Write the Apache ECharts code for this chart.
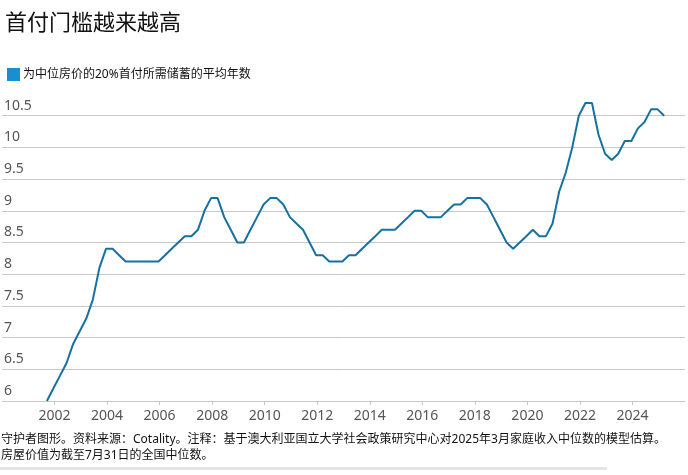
<!DOCTYPE html>
<html>
<head>
<meta charset="utf-8">
<script src="https://cdn.jsdelivr.net/npm/echarts@6/dist/echarts.min.js"></script>
<style>
html,body{margin:0;padding:0;background:#fff;}
#chart{width:688px;height:475px;}
</style>
</head>
<body>
<div id="chart"></div>
<script>
// ---- data ----
var titleText = '首付门槛越来越高';
var seriesName = '为中位房价的20%首付所需储蓄的平均年数';
var footnote = ['守护者图形。资料来源：Cotality。注释：基于澳大利亚国立大学社会政策研究中心对2025年3月家庭收入中位数的模型估算。',
                '房屋价值为截至7月31日的全国中位数。'];
// quarterly observations, first one September 2001
var startYear = 2001, startMonth = 9, monthsPerStep = 3;
var yearsSaving = [
  6.0, 6.2, 6.4, 6.6, 6.9, 7.1, 7.3, 7.6, 8.1, 8.4,
  8.4, 8.3, 8.2, 8.2, 8.2, 8.2, 8.2, 8.2,
  8.3, 8.4, 8.5, 8.6, 8.6, 8.7, 9.0, 9.2,
  9.2, 8.9, 8.7, 8.5, 8.5, 8.7, 8.9, 9.1, 9.2, 9.2,
  9.1, 8.9, 8.8, 8.7, 8.5, 8.3, 8.3, 8.2, 8.2, 8.2,
  8.3, 8.3, 8.4, 8.5, 8.6, 8.7, 8.7, 8.7, 8.8, 8.9,
  9.0, 9.0, 8.9, 8.9, 8.9, 9.0, 9.1, 9.1, 9.2, 9.2,
  9.2, 9.1, 8.9, 8.7, 8.5, 8.4, 8.5, 8.6, 8.7, 8.6,
  8.6, 8.8, 9.3, 9.6, 10.0, 10.5, 10.7, 10.7, 10.2, 9.9,
  9.8, 9.9, 10.1, 10.1, 10.3, 10.4, 10.6, 10.6, 10.5
];
var xTickYears = [2002, 2004, 2006, 2008, 2010, 2012, 2014, 2016, 2018, 2020, 2022, 2024];
var yTickValues = [6, 6.5, 7, 7.5, 8, 8.5, 9, 9.5, 10, 10.5];

// ---- build ----
var seriesData = yearsSaving.map(function (v, i) {
  var m = startMonth + i * monthsPerStep - 1;
  var y = startYear + Math.floor(m / 12);
  var mo = (m % 12) + 1;
  return [y + (mo - 0.5) / 12, v];
});

var FONT = '"Noto Sans", "Noto Sans CJK SC", sans-serif';
var chart = echarts.init(document.getElementById('chart'), null, {renderer: 'canvas'});
chart.setOption({
  animation: false,
  backgroundColor: '#fff',
  textStyle: {fontFamily: FONT},
  title: {
    text: titleText,
    left: 0, top: 6,
    textStyle: {fontSize: 22, fontWeight: 'normal', color: '#121212', fontFamily: '"Noto Sans CJK SC", sans-serif'}
  },
  legend: {
    left: 2, top: 63,
    icon: 'rect', itemWidth: 13, itemHeight: 13, itemGap: 4,
    selectedMode: false,
    data: [{name: seriesName, itemStyle: {color: '#1a8ed2'}}],
    textStyle: {fontSize: 12, color: '#121212', padding: [0, 0, 0, -2], fontFamily: FONT}
  },
  grid: {left: 2, right: 3, top: 84, bottom: 74, containLabel: false},
  xAxis: {
    type: 'value', min: 2000, max: 2026, interval: 2,
    axisLine: {show: true, lineStyle: {color: '#c8c8c8', width: 1}},
    axisTick: {show: true, length: 4, lineStyle: {color: '#c8c8c8'}, customValues: xTickYears},
    axisLabel: {customValues: xTickYears, margin: 8, fontSize: 14, color: '#555', fontFamily: FONT,
      formatter: function (v) { return String(Math.round(v)); }},
    splitLine: {show: false}
  },
  yAxis: {
    type: 'value', min: 6, max: 11, interval: 0.5,
    axisLine: {show: false}, axisTick: {show: false},
    axisLabel: {inside: true, margin: 2, align: 'left', verticalAlign: 'bottom', padding: [0, 0, 3, 0],
      fontSize: 14, color: '#555', fontFamily: FONT, showMaxLabel: false},
    splitLine: {show: true, showMaxLine: false, showMinLine: true, lineStyle: {color: '#c8c8c8', width: 1}}
  },
  series: [{
    name: seriesName,
    type: 'line',
    data: seriesData,
    showSymbol: false, symbol: 'none',
    lineStyle: {color: '#1670a2', width: 2},
    itemStyle: {color: '#1670a2'}
  }],
  graphic: [
    {type: 'text', left: 1, top: 432,
     style: {text: footnote.join('\n'), fontSize: 12, lineHeight: 16, fill: '#121212', fontFamily: FONT}},
    {type: 'rect', shape: {x: 0, y: 467, width: 607, height: 3}, style: {fill: '#e4e4e4'}}
  ]
});
</script>
</body>
</html>
